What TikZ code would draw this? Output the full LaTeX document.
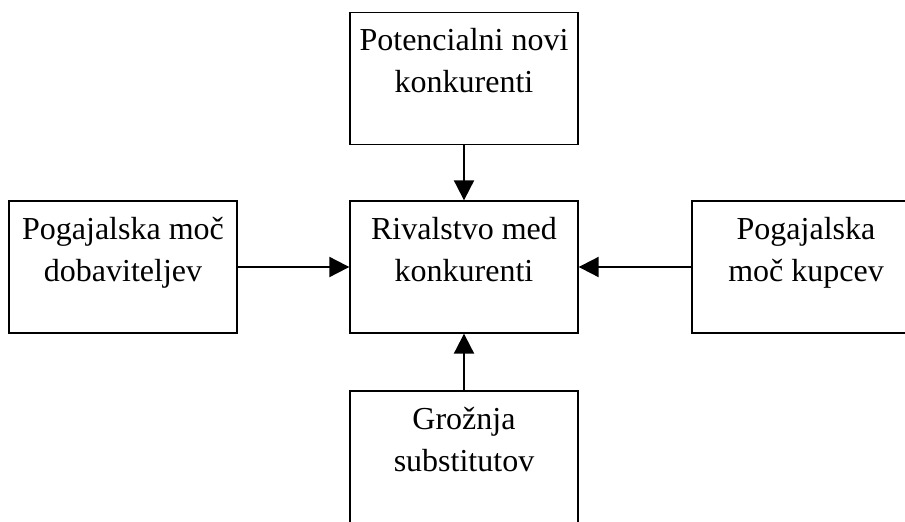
\documentclass[tikz,border=0pt]{standalone}
\usepackage{fontspec}
\setmainfont{Liberation Serif}
\usepackage{tikz}
\usetikzlibrary{arrows.meta}

\newcommand{\boxtext}[1]{\parbox[c][99pt][t]{165pt}{\centering\rule{0pt}{28.5pt}#1}}

\begin{document}
\begin{tikzpicture}[x=0.75pt,y=-0.75pt,
		box/.style={draw,line width=1pt,minimum width=171pt,minimum height=99pt,inner sep=0pt,
			font=\fontsize{24pt}{31.5pt}\selectfont},
		arr/.style={line width=1.5pt,-{Triangle[width=15pt,length=15pt]}}]
			\useasboundingbox (0,0) rectangle (905,521);
			\clip (0,0) rectangle (905,521);
			\coordinate (T) at (464,78.5);
			\coordinate (M) at (464,267);
			\coordinate (L) at (123,267);
			\coordinate (R) at (806,267);
			\coordinate (B) at (464,457);
			\node[box] (novi) at (T) {\boxtext{Potencialni novi\\konkurenti}};
			\node[box] (rival) at (M) {\boxtext{Rivalstvo med\\konkurenti}};
			\node[box] (dobav) at (L) {\boxtext{Pogajalska moč\\dobaviteljev}};
			\node[box] (kupci) at (R) {\boxtext{Pogajalska\\moč kupcev}};
			\node[box] (subst) at (B) {\boxtext{Grožnja\\substitutov}};
			\draw[arr] (novi) -- (rival);
			\draw[arr] (dobav) -- (rival);
			\draw[arr] (kupci) -- (rival);
			\draw[arr] (subst) -- (rival);
		\end{tikzpicture}
\end{document}
